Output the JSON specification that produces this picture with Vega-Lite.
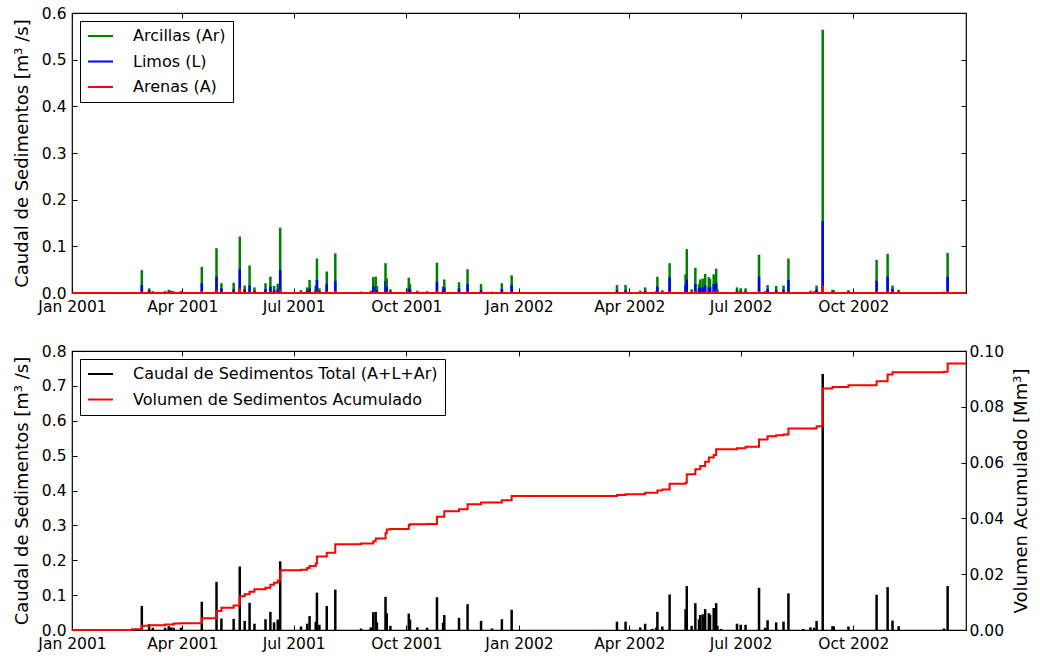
{
  "$schema": "https://vega.github.io/schema/vega-lite/v6.json",
  "padding": {"left": 12, "top": 5, "right": 2, "bottom": 2},
  "background": "white",
  "datasets": {
    "q": [
      {"d": "2001-02-19", "Ar": 0.002, "L": 0.001, "A": 0.0003, "T": 0.003},
      {"d": "2001-02-27", "Ar": 0.049, "L": 0.017, "A": 0.003, "T": 0.069},
      {"d": "2001-03-05", "Ar": 0.010, "L": 0.006, "A": 0.001, "T": 0.017},
      {"d": "2001-03-08", "Ar": 0.004, "L": 0.002, "A": 0.0005, "T": 0.0065},
      {"d": "2001-03-18", "Ar": 0.004, "L": 0.002, "A": 0.0005, "T": 0.0065},
      {"d": "2001-03-21", "Ar": 0.007, "L": 0.003, "A": 0.001, "T": 0.011},
      {"d": "2001-03-23", "Ar": 0.005, "L": 0.002, "A": 0.0005, "T": 0.0075},
      {"d": "2001-03-25", "Ar": 0.004, "L": 0.002, "A": 0.0005, "T": 0.0065},
      {"d": "2001-03-31", "Ar": 0.004, "L": 0.002, "A": 0.0005, "T": 0.0065},
      {"d": "2001-04-17", "Ar": 0.056, "L": 0.021, "A": 0.004, "T": 0.081},
      {"d": "2001-04-29", "Ar": 0.096, "L": 0.035, "A": 0.007, "T": 0.138},
      {"d": "2001-05-03", "Ar": 0.021, "L": 0.010, "A": 0.002, "T": 0.033},
      {"d": "2001-05-13", "Ar": 0.022, "L": 0.008, "A": 0.002, "T": 0.032},
      {"d": "2001-05-18", "Ar": 0.121, "L": 0.051, "A": 0.010, "T": 0.182},
      {"d": "2001-05-22", "Ar": 0.016, "L": 0.008, "A": 0.002, "T": 0.026},
      {"d": "2001-05-26", "Ar": 0.059, "L": 0.016, "A": 0.003, "T": 0.078},
      {"d": "2001-05-30", "Ar": 0.012, "L": 0.005, "A": 0.001, "T": 0.018},
      {"d": "2001-06-08", "Ar": 0.021, "L": 0.008, "A": 0.002, "T": 0.031},
      {"d": "2001-06-12", "Ar": 0.035, "L": 0.014, "A": 0.003, "T": 0.052},
      {"d": "2001-06-15", "Ar": 0.015, "L": 0.006, "A": 0.001, "T": 0.022},
      {"d": "2001-06-18", "Ar": 0.020, "L": 0.008, "A": 0.002, "T": 0.030},
      {"d": "2001-06-20", "Ar": 0.140, "L": 0.049, "A": 0.008, "T": 0.197},
      {"d": "2001-07-07", "Ar": 0.006, "L": 0.003, "A": 0.001, "T": 0.010},
      {"d": "2001-07-12", "Ar": 0.012, "L": 0.005, "A": 0.001, "T": 0.018},
      {"d": "2001-07-14", "Ar": 0.028, "L": 0.010, "A": 0.002, "T": 0.040},
      {"d": "2001-07-19", "Ar": 0.016, "L": 0.006, "A": 0.001, "T": 0.023},
      {"d": "2001-07-20", "Ar": 0.074, "L": 0.028, "A": 0.005, "T": 0.107},
      {"d": "2001-07-22", "Ar": 0.010, "L": 0.004, "A": 0.001, "T": 0.015},
      {"d": "2001-07-28", "Ar": 0.046, "L": 0.019, "A": 0.004, "T": 0.069},
      {"d": "2001-08-04", "Ar": 0.085, "L": 0.026, "A": 0.005, "T": 0.116},
      {"d": "2001-08-25", "Ar": 0.003, "L": 0.001, "A": 0.0003, "T": 0.0043},
      {"d": "2001-09-02", "Ar": 0.005, "L": 0.002, "A": 0.0005, "T": 0.0075},
      {"d": "2001-09-04", "Ar": 0.034, "L": 0.014, "A": 0.003, "T": 0.051},
      {"d": "2001-09-06", "Ar": 0.035, "L": 0.014, "A": 0.003, "T": 0.052},
      {"d": "2001-09-07", "Ar": 0.015, "L": 0.006, "A": 0.001, "T": 0.022},
      {"d": "2001-09-14", "Ar": 0.064, "L": 0.026, "A": 0.005, "T": 0.095},
      {"d": "2001-09-15", "Ar": 0.031, "L": 0.014, "A": 0.003, "T": 0.048},
      {"d": "2001-09-18", "Ar": 0.008, "L": 0.003, "A": 0.001, "T": 0.012},
      {"d": "2001-10-03", "Ar": 0.033, "L": 0.012, "A": 0.002, "T": 0.047},
      {"d": "2001-10-04", "Ar": 0.020, "L": 0.008, "A": 0.002, "T": 0.030},
      {"d": "2001-10-10", "Ar": 0.005, "L": 0.002, "A": 0.0005, "T": 0.0075},
      {"d": "2001-10-18", "Ar": 0.004, "L": 0.002, "A": 0.0005, "T": 0.0065},
      {"d": "2001-10-26", "Ar": 0.065, "L": 0.024, "A": 0.005, "T": 0.094},
      {"d": "2001-10-31", "Ar": 0.014, "L": 0.006, "A": 0.001, "T": 0.021},
      {"d": "2001-11-01", "Ar": 0.029, "L": 0.012, "A": 0.002, "T": 0.043},
      {"d": "2001-11-13", "Ar": 0.023, "L": 0.010, "A": 0.002, "T": 0.035},
      {"d": "2001-11-20", "Ar": 0.051, "L": 0.019, "A": 0.004, "T": 0.074},
      {"d": "2001-12-01", "Ar": 0.019, "L": 0.006, "A": 0.001, "T": 0.026},
      {"d": "2001-12-10", "Ar": 0.003, "L": 0.001, "A": 0.0003, "T": 0.0043},
      {"d": "2001-12-18", "Ar": 0.021, "L": 0.008, "A": 0.002, "T": 0.031},
      {"d": "2001-12-26", "Ar": 0.038, "L": 0.017, "A": 0.003, "T": 0.058},
      {"d": "2002-03-22", "Ar": 0.017, "L": 0.006, "A": 0.001, "T": 0.024},
      {"d": "2002-03-29", "Ar": 0.017, "L": 0.006, "A": 0.001, "T": 0.024},
      {"d": "2002-04-10", "Ar": 0.005, "L": 0.002, "A": 0.0005, "T": 0.0075},
      {"d": "2002-04-14", "Ar": 0.012, "L": 0.005, "A": 0.001, "T": 0.018},
      {"d": "2002-04-20", "Ar": 0.002, "L": 0.001, "A": 0.0003, "T": 0.0033},
      {"d": "2002-04-23", "Ar": 0.004, "L": 0.002, "A": 0.0005, "T": 0.0065},
      {"d": "2002-04-24", "Ar": 0.035, "L": 0.014, "A": 0.003, "T": 0.052},
      {"d": "2002-04-28", "Ar": 0.006, "L": 0.003, "A": 0.001, "T": 0.010},
      {"d": "2002-05-04", "Ar": 0.064, "L": 0.034, "A": 0.004, "T": 0.102},
      {"d": "2002-05-17", "Ar": 0.040, "L": 0.017, "A": 0.003, "T": 0.060},
      {"d": "2002-05-18", "Ar": 0.094, "L": 0.029, "A": 0.003, "T": 0.126},
      {"d": "2002-05-22", "Ar": 0.008, "L": 0.003, "A": 0.001, "T": 0.012},
      {"d": "2002-05-25", "Ar": 0.054, "L": 0.019, "A": 0.004, "T": 0.077},
      {"d": "2002-05-28", "Ar": 0.019, "L": 0.010, "A": 0.002, "T": 0.031},
      {"d": "2002-05-29", "Ar": 0.029, "L": 0.012, "A": 0.002, "T": 0.043},
      {"d": "2002-05-31", "Ar": 0.031, "L": 0.012, "A": 0.002, "T": 0.045},
      {"d": "2002-06-02", "Ar": 0.041, "L": 0.016, "A": 0.003, "T": 0.060},
      {"d": "2002-06-05", "Ar": 0.034, "L": 0.012, "A": 0.002, "T": 0.048},
      {"d": "2002-06-06", "Ar": 0.030, "L": 0.012, "A": 0.002, "T": 0.044},
      {"d": "2002-06-09", "Ar": 0.040, "L": 0.019, "A": 0.004, "T": 0.063},
      {"d": "2002-06-11", "Ar": 0.052, "L": 0.021, "A": 0.004, "T": 0.077},
      {"d": "2002-06-12", "Ar": 0.008, "L": 0.003, "A": 0.001, "T": 0.012},
      {"d": "2002-06-15", "Ar": 0.002, "L": 0.001, "A": 0.0003, "T": 0.0033},
      {"d": "2002-06-28", "Ar": 0.012, "L": 0.005, "A": 0.001, "T": 0.018},
      {"d": "2002-07-01", "Ar": 0.010, "L": 0.004, "A": 0.001, "T": 0.015},
      {"d": "2002-07-05", "Ar": 0.010, "L": 0.004, "A": 0.001, "T": 0.015},
      {"d": "2002-07-16", "Ar": 0.082, "L": 0.035, "A": 0.004, "T": 0.121},
      {"d": "2002-07-21", "Ar": 0.004, "L": 0.002, "A": 0.0005, "T": 0.0065},
      {"d": "2002-07-23", "Ar": 0.017, "L": 0.009, "A": 0.002, "T": 0.028},
      {"d": "2002-07-30", "Ar": 0.015, "L": 0.006, "A": 0.001, "T": 0.022},
      {"d": "2002-08-05", "Ar": 0.016, "L": 0.007, "A": 0.001, "T": 0.024},
      {"d": "2002-08-09", "Ar": 0.074, "L": 0.028, "A": 0.003, "T": 0.105},
      {"d": "2002-08-21", "Ar": 0.002, "L": 0.001, "A": 0.0003, "T": 0.0033},
      {"d": "2002-08-27", "Ar": 0.005, "L": 0.002, "A": 0.0005, "T": 0.0075},
      {"d": "2002-08-30", "Ar": 0.004, "L": 0.002, "A": 0.0005, "T": 0.0065},
      {"d": "2002-09-01", "Ar": 0.016, "L": 0.008, "A": 0.002, "T": 0.026},
      {"d": "2002-09-06", "Ar": 0.564, "L": 0.154, "A": 0.016, "T": 0.734},
      {"d": "2002-09-14", "Ar": 0.007, "L": 0.003, "A": 0.001, "T": 0.011},
      {"d": "2002-09-15", "Ar": 0.006, "L": 0.003, "A": 0.001, "T": 0.010},
      {"d": "2002-09-27", "Ar": 0.006, "L": 0.003, "A": 0.001, "T": 0.010},
      {"d": "2002-10-20", "Ar": 0.071, "L": 0.026, "A": 0.004, "T": 0.101},
      {"d": "2002-10-29", "Ar": 0.084, "L": 0.035, "A": 0.004, "T": 0.123},
      {"d": "2002-11-02", "Ar": 0.016, "L": 0.009, "A": 0.002, "T": 0.027},
      {"d": "2002-11-07", "Ar": 0.007, "L": 0.003, "A": 0.001, "T": 0.011},
      {"d": "2002-12-14", "Ar": 0.003, "L": 0.001, "A": 0.0003, "T": 0.0043},
      {"d": "2002-12-17", "Ar": 0.086, "L": 0.035, "A": 0.005, "T": 0.126}
    ],
    "cum": [
      {"d": "2001-01-01", "c": 0},
      {"d": "2001-02-19", "c": 0.0003},
      {"d": "2001-02-27", "c": 0.0015},
      {"d": "2001-03-05", "c": 0.0017},
      {"d": "2001-03-18", "c": 0.002},
      {"d": "2001-03-25", "c": 0.0023},
      {"d": "2001-03-31", "c": 0.0024},
      {"d": "2001-04-17", "c": 0.0042},
      {"d": "2001-04-29", "c": 0.0068},
      {"d": "2001-05-03", "c": 0.008},
      {"d": "2001-05-13", "c": 0.0088},
      {"d": "2001-05-18", "c": 0.0121},
      {"d": "2001-05-22", "c": 0.0128},
      {"d": "2001-05-26", "c": 0.0137},
      {"d": "2001-05-30", "c": 0.0146},
      {"d": "2001-06-08", "c": 0.0151},
      {"d": "2001-06-12", "c": 0.0162},
      {"d": "2001-06-15", "c": 0.0169},
      {"d": "2001-06-18", "c": 0.0177},
      {"d": "2001-06-20", "c": 0.0214},
      {"d": "2001-07-07", "c": 0.0216},
      {"d": "2001-07-12", "c": 0.0222},
      {"d": "2001-07-14", "c": 0.0229},
      {"d": "2001-07-19", "c": 0.0238},
      {"d": "2001-07-20", "c": 0.0263},
      {"d": "2001-07-28", "c": 0.0277},
      {"d": "2001-08-04", "c": 0.0307},
      {"d": "2001-08-25", "c": 0.031},
      {"d": "2001-09-04", "c": 0.0318},
      {"d": "2001-09-06", "c": 0.0328},
      {"d": "2001-09-14", "c": 0.0347},
      {"d": "2001-09-15", "c": 0.036},
      {"d": "2001-09-18", "c": 0.0362},
      {"d": "2001-10-03", "c": 0.0376},
      {"d": "2001-10-04", "c": 0.0379},
      {"d": "2001-10-18", "c": 0.038},
      {"d": "2001-10-26", "c": 0.0406},
      {"d": "2001-11-01", "c": 0.0426},
      {"d": "2001-11-13", "c": 0.0433},
      {"d": "2001-11-20", "c": 0.0451},
      {"d": "2001-12-01", "c": 0.0457},
      {"d": "2001-12-18", "c": 0.0465},
      {"d": "2001-12-26", "c": 0.048},
      {"d": "2002-03-22", "c": 0.0484},
      {"d": "2002-03-29", "c": 0.0487},
      {"d": "2002-04-14", "c": 0.0492},
      {"d": "2002-04-24", "c": 0.05},
      {"d": "2002-04-28", "c": 0.0504},
      {"d": "2002-05-04", "c": 0.0524},
      {"d": "2002-05-17", "c": 0.0528},
      {"d": "2002-05-18", "c": 0.0558},
      {"d": "2002-05-25", "c": 0.0576},
      {"d": "2002-05-29", "c": 0.0588},
      {"d": "2002-06-02", "c": 0.0603},
      {"d": "2002-06-05", "c": 0.0618},
      {"d": "2002-06-09", "c": 0.0627},
      {"d": "2002-06-11", "c": 0.0648},
      {"d": "2002-06-28", "c": 0.0651},
      {"d": "2002-07-05", "c": 0.0657},
      {"d": "2002-07-16", "c": 0.0683},
      {"d": "2002-07-23", "c": 0.0694},
      {"d": "2002-07-30", "c": 0.0698},
      {"d": "2002-08-05", "c": 0.0701},
      {"d": "2002-08-09", "c": 0.0722},
      {"d": "2002-09-01", "c": 0.073},
      {"d": "2002-09-06", "c": 0.0866},
      {"d": "2002-09-14", "c": 0.0871},
      {"d": "2002-09-27", "c": 0.0877},
      {"d": "2002-10-20", "c": 0.0892},
      {"d": "2002-10-29", "c": 0.0916},
      {"d": "2002-11-02", "c": 0.0924},
      {"d": "2002-12-14", "c": 0.0926},
      {"d": "2002-12-17", "c": 0.0955},
      {"d": "2003-01-01", "c": 0.0955}
    ]
  },
  "spacing": 27,
  "resolve": {"scale": {"color": "independent", "x": "independent"}, "legend": {"color": "independent"}},
  "vconcat": [
    {
      "width": 894,
      "height": 280,
      "data": {"name": "q"},
      "layer": [
        {
          "transform": [{"fold": ["Ar", "L", "A"], "as": ["k", "v"]}],
          "mark": {"type": "rule", "strokeWidth": 2.5},
          "encoding": {
            "x": {
              "field": "d", "type": "temporal",
              "scale": {"domain": [{"year": 2001, "month": 1, "date": 1}, {"year": 2003, "month": 1, "date": 1}]},
              "axis": {
                "title": null, "format": "%b %Y",
                "values": [
                  {"year": 2001, "month": 1, "date": 1}, {"year": 2001, "month": 4, "date": 1},
                  {"year": 2001, "month": 7, "date": 1}, {"year": 2001, "month": 10, "date": 1},
                  {"year": 2002, "month": 1, "date": 1}, {"year": 2002, "month": 4, "date": 1},
                  {"year": 2002, "month": 7, "date": 1}, {"year": 2002, "month": 10, "date": 1}
                ]
              }
            },
            "y": {
              "field": "v", "type": "quantitative",
              "scale": {"domain": [0, 0.6], "nice": false},
              "axis": {"title": "Caudal de Sedimentos [m³ /s]", "values": [0, 0.1, 0.2, 0.3, 0.4, 0.5, 0.6], "format": ".1f"}
            },
            "y2": {"datum": 0},
            "color": {
              "field": "k", "type": "nominal",
              "scale": {"domain": ["Ar", "L", "A"], "range": ["#008000", "#0000ff", "#ff0000"]},
              "legend": {
                "title": null, "symbolType": "stroke",
                "labelExpr": "datum.label == 'Ar' ? 'Arcillas (Ar)' : datum.label == 'L' ? 'Limos (L)' : 'Arenas (A)'"
              }
            }
          }
        },
        {
          "mark": {"type": "rule", "color": "#ff0000", "strokeWidth": 2},
          "encoding": {"y": {"datum": 0, "axis": null}}
        },
        {
          "mark": {"type": "rule", "opacity": 0},
          "encoding": {
            "x": {
              "field": "d", "type": "temporal",
              "axis": {
                "orient": "top", "labels": false, "title": null,
                "values": [
                  {"year": 2001, "month": 1, "date": 1}, {"year": 2001, "month": 4, "date": 1},
                  {"year": 2001, "month": 7, "date": 1}, {"year": 2001, "month": 10, "date": 1},
                  {"year": 2002, "month": 1, "date": 1}, {"year": 2002, "month": 4, "date": 1},
                  {"year": 2002, "month": 7, "date": 1}, {"year": 2002, "month": 10, "date": 1}
                ]
              }
            },
            "y": {
              "field": "Ar", "type": "quantitative",
              "axis": {"orient": "right", "labels": false, "title": null, "values": [0, 0.1, 0.2, 0.3, 0.4, 0.5, 0.6]}
            }
          }
        }
      ],
      "resolve": {"axis": {"x": "independent", "y": "independent"}}
    },
    {
      "width": 894,
      "height": 279,
      "layer": [
        {
          "layer": [
            {
              "data": {"name": "q"},
              "mark": {"type": "rule", "strokeWidth": 2.5},
              "encoding": {
                "x": {
                  "field": "d", "type": "temporal",
                  "scale": {"domain": [{"year": 2001, "month": 1, "date": 1}, {"year": 2003, "month": 1, "date": 1}]},
                  "axis": {
                    "title": null, "format": "%b %Y",
                    "values": [
                      {"year": 2001, "month": 1, "date": 1}, {"year": 2001, "month": 4, "date": 1},
                      {"year": 2001, "month": 7, "date": 1}, {"year": 2001, "month": 10, "date": 1},
                      {"year": 2002, "month": 1, "date": 1}, {"year": 2002, "month": 4, "date": 1},
                      {"year": 2002, "month": 7, "date": 1}, {"year": 2002, "month": 10, "date": 1}
                    ]
                  }
                },
                "y": {
                  "field": "T", "type": "quantitative",
                  "scale": {"domain": [0, 0.8], "nice": false},
                  "axis": {"title": "Caudal de Sedimentos [m³ /s]", "values": [0, 0.1, 0.2, 0.3, 0.4, 0.5, 0.6, 0.7, 0.8], "format": ".1f"}
                },
                "y2": {"datum": 0},
                "color": {
                  "datum": "Caudal de Sedimentos Total (A+L+Ar)",
                  "scale": {"domain": ["Caudal de Sedimentos Total (A+L+Ar)", "Volumen de Sedimentos Acumulado"], "range": ["#000000", "#ff0000"]},
                  "legend": {"title": null, "symbolType": "stroke"}
                }
              }
            },
            {
              "data": {"name": "q"},
              "mark": {"type": "rule", "opacity": 0},
              "encoding": {
                "x": {
                  "field": "d", "type": "temporal",
                  "axis": {
                    "orient": "top", "labels": false, "title": null,
                    "values": [
                      {"year": 2001, "month": 1, "date": 1}, {"year": 2001, "month": 4, "date": 1},
                      {"year": 2001, "month": 7, "date": 1}, {"year": 2001, "month": 10, "date": 1},
                      {"year": 2002, "month": 1, "date": 1}, {"year": 2002, "month": 4, "date": 1},
                      {"year": 2002, "month": 7, "date": 1}, {"year": 2002, "month": 10, "date": 1}
                    ]
                  }
                },
                "y": {
                  "field": "T", "type": "quantitative",
                  "axis": {"title": "Caudal de Sedimentos [m³ /s]", "values": [0, 0.1, 0.2, 0.3, 0.4, 0.5, 0.6, 0.7, 0.8], "format": ".1f"}
                }
              }
            }
          ],
          "resolve": {"axis": {"x": "independent"}}
        },
        {
          "data": {"name": "cum"},
          "mark": {"type": "line", "interpolate": "step-after", "strokeWidth": 2},
          "encoding": {
            "x": {"field": "d", "type": "temporal", "axis": null},
            "y": {
              "field": "c", "type": "quantitative",
              "scale": {"domain": [0, 0.1], "nice": false},
              "axis": {"orient": "right", "title": "Volumen Acumulado [Mm³]", "values": [0, 0.02, 0.04, 0.06, 0.08, 0.1], "format": ".2f", "labelPadding": 8, "titleAngle": 270, "titleBaseline": "top", "titlePadding": 9}
            },
            "color": {"datum": "Volumen de Sedimentos Acumulado"}
          }
        }
      ],
      "resolve": {"scale": {"y": "independent"}}
    }
  ],
  "config": {
    "font": "DejaVu Sans",
    "view": {"stroke": "#000000", "strokeWidth": 1.2},
    "axis": {
      "grid": false, "domain": false,
      "tickColor": "#000000", "tickSize": -5, "tickWidth": 1,
      "labelFontSize": 15.5, "labelColor": "#000000", "labelPadding": 11,
      "labelFlush": false, "labelOverlap": false,
      "titleFontSize": 18, "titleFontWeight": "normal", "titleColor": "#000000", "titlePadding": 10
    },
    "legend": {
      "orient": "top-left", "offset": 8,
      "strokeColor": "#000000", "fillColor": "#ffffff", "padding": 7,
      "symbolType": "stroke", "symbolSize": 625, "symbolStrokeWidth": 2,
      "labelFontSize": 16, "labelColor": "#000000", "labelLimit": 500, "labelOffset": 19,
      "clipHeight": 16, "rowPadding": 9.5
    }
  }
}
